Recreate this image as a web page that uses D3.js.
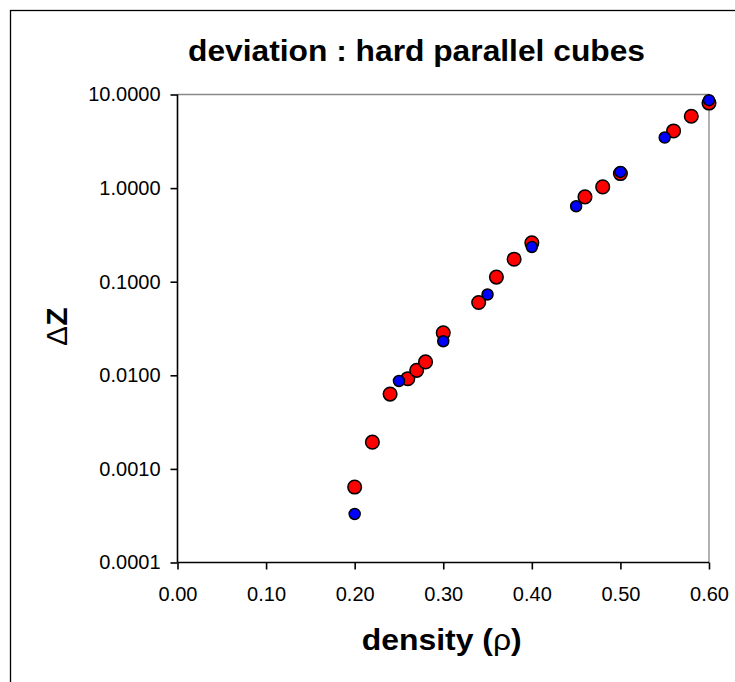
<!DOCTYPE html>
<html><head><meta charset="utf-8">
<script src="https://cdn.jsdelivr.net/npm/d3@7"></script>
<style>
html,body{margin:0;padding:0;background:#fff;}
text{font-family:Arial,"Liberation Sans",sans-serif;}
</style></head>
<body><svg id="c" width="735" height="682"></svg>
<script>
const titleText = "deviation : hard parallel cubes";
const xLabelParts = ["density (", "\u03C1", ")"];
const yLabelParts = ["\u0394", "Z"];
const xTicks = [0, 0.1, 0.2, 0.3, 0.4, 0.5, 0.6];
const yTicks = [0.0001, 0.001, 0.01, 0.1, 1, 10];
const redRho = [0.20,0.22,0.24,0.26,0.27,0.28,0.30,0.34,0.36,0.38,0.40,0.46,0.48,0.50,0.56,0.58,0.60];
const redDZ  = [0.00064,0.00193,0.0063,0.0092,0.0113,0.0139,0.0284,0.060,0.112,0.174,0.26,0.805,1.03,1.43,4.08,5.86,8.1];
const blueRho = [0.20,0.25,0.30,0.35,0.40,0.45,0.50,0.55,0.60];
const blueDZ  = [0.00033,0.0087,0.0231,0.073,0.235,0.64,1.49,3.47,8.7];

const svg = d3.select("#c");
const L = 177.5, R = 709, T = 94.5, B = 562.5;
const x = d3.scaleLinear().domain([0, 0.6]).range([L, R]);
const y = d3.scaleLog().domain([0.0001, 10]).range([B, T]);

// outer frame
svg.append("rect").attr("x",10.5).attr("y",10.5).attr("width",900).attr("height",900)
  .attr("fill","none").attr("stroke","#000").attr("stroke-width",1.3);

// plot top/right border
svg.append("path").attr("d",`M${L},${T}H${R}V${B}`).attr("fill","none")
  .attr("stroke","#888").attr("stroke-width",1.3);

// axes
const xa = svg.append("g").attr("transform",`translate(0,${B})`)
  .call(d3.axisBottom(x).tickValues(xTicks).tickFormat(d3.format(".2f")).tickSize(7).tickPadding(17));
const ya = svg.append("g").attr("transform",`translate(${L},0)`)
  .call(d3.axisLeft(y).tickValues(yTicks).tickFormat(d3.format(".4f")).tickSize(7).tickPadding(10));
[xa, ya].forEach(g => {
  g.select(".domain").attr("stroke","#000").attr("stroke-width",1.6);
  g.selectAll(".tick line").attr("stroke","#000").attr("stroke-width",1.6);
  g.selectAll(".tick text").attr("font-size",20).attr("fill","#000")
    .attr("font-family","Arial, 'Liberation Sans', sans-serif");
});
xa.select(".domain").attr("d",`M${L},0H${R}`);
ya.select(".domain").attr("d",`M0,${B}V${T}`);

// markers
svg.append("g").selectAll("circle").data(redRho.map((r,i)=>[r,redDZ[i]])).join("circle")
  .attr("cx",d=>x(d[0])).attr("cy",d=>y(d[1])).attr("r",6.8)
  .attr("fill","#ff0000").attr("stroke","#000").attr("stroke-width",1.5);
svg.append("g").selectAll("circle").data(blueRho.map((r,i)=>[r,blueDZ[i]])).join("circle")
  .attr("cx",d=>x(d[0])).attr("cy",d=>y(d[1])).attr("r",5.5)
  .attr("fill","#0000ff").attr("stroke","#000").attr("stroke-width",1.5);

// texts
svg.append("text").attr("x",416.5).attr("y",61).attr("text-anchor","middle")
  .attr("font-size",30).attr("font-weight","bold")
  .attr("textLength",457).attr("lengthAdjust","spacingAndGlyphs").text(titleText);

const xl = svg.append("text").attr("x",441.7).attr("y",650).attr("text-anchor","middle")
  .attr("font-size",30).attr("font-weight","bold")
  .attr("textLength",160).attr("lengthAdjust","spacingAndGlyphs");
xl.append("tspan").text(xLabelParts[0]);
xl.append("tspan").attr("font-weight","normal").text(xLabelParts[1]);
xl.append("tspan").text(xLabelParts[2]);

const yl = svg.append("text").attr("transform","translate(66.5,326.7) rotate(-90)").attr("text-anchor","middle")
  .attr("font-size",30).attr("font-weight","bold");
yl.append("tspan").attr("font-weight","normal").text(yLabelParts[0]);
yl.append("tspan").text(yLabelParts[1]);
</script></body></html>
